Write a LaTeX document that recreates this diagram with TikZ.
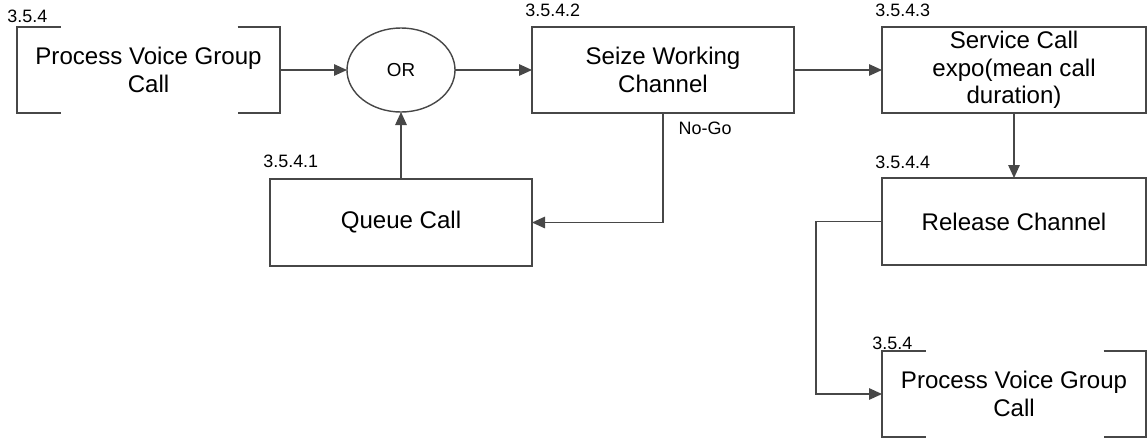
\documentclass[tikz,border=0pt]{standalone}
\usepackage{fontspec}
\setmainfont{Liberation Sans}
\usepackage{xcolor}
\usepackage{tikz}
\usetikzlibrary{shapes,arrows.meta,positioning,fit,calc}

\begin{document}
\begin{tikzpicture}[node distance=1.3cm,
    >={Triangle[length=0.26cm,width=0.23cm]},
    wire/.style={draw=black!72, line width=0.8pt},
    stepbox/.style={rectangle, draw=black!72, line width=0.8pt, outer sep=0pt, inner sep=2pt, align=center, minimum width=5.24cm, minimum height=1.72cm, font=\fontsize{13.7}{15.6}\selectfont},
    refbox/.style={rectangle, outer sep=0pt, inner sep=2pt, align=center, minimum width=5.26cm, minimum height=1.72cm, font=\fontsize{13.7}{15.6}\selectfont},
    numlabel/.style={anchor=base west, inner sep=0pt, font=\fontsize{10.2}{12}\selectfont}]
    \useasboundingbox (0,0) rectangle (22.96,-8.8);

    \node (pvg) [refbox] at (2.97,-1.40) {Process Voice Group\\Call};
    \node (or) [ellipse, draw=black!72, line width=0.8pt, outer sep=0pt, right=1.34cm of pvg, minimum width=2.16cm, minimum height=1.68cm, font=\fontsize{10.7}{12}\selectfont] {OR};
    \node (seize) [stepbox, right=1.54cm of or] {Seize Working\\Channel};
    \node (service) [stepbox, right=1.76cm of seize, minimum width=5.28cm] {Service Call\\expo(mean call\\duration)};
    \node (release) [stepbox, below=1.30cm of service, minimum width=5.28cm, minimum height=1.74cm] {Release Channel};
    \node (pvgend) [refbox, below=1.72cm of release, minimum width=5.28cm] {Process Voice Group\\Call};
    \node (queue) [stepbox, below=1.34cm of or, minimum height=1.74cm] {Queue Call};

    % brackets of the referenced process
    \foreach \n in {pvg,pvgend} {
        \draw [wire] ([xshift=0.87cm]\n.north west) -| (\n.south west) -- ++(0.87,0);
        \draw [wire] ([xshift=-0.85cm]\n.north east) -| (\n.south east) -- ++(-0.85,0);
    }

    \node (pvgnum) [numlabel] at ([xshift=-0.2cm,yshift=0.1cm]pvg.north west) {3.5.4};
    \node (seizenum) [numlabel] at ([xshift=-0.14cm,yshift=0.21cm]seize.north west) {3.5.4.2};
    \node (servicenum) [numlabel] at ([xshift=-0.14cm,yshift=0.21cm]service.north west) {3.5.4.3};
    \node (releasenum) [numlabel] at ([xshift=-0.14cm,yshift=0.2cm]release.north west) {3.5.4.4};
    \node (queuenum) [numlabel] at ([xshift=-0.14cm,yshift=0.24cm]queue.north west) {3.5.4.1};
    \node (pvgendnum) [numlabel] at ([xshift=-0.2cm,yshift=0.04cm]pvgend.north west) {3.5.4};

    \draw [wire,->] (pvg) -- (or);
    \draw [wire,->] (or) -- (seize);
    \draw [wire,->] (seize) -- (service);
    \draw [wire,->] (service) -- (release);
    \draw [wire,->] (queue) -- (or);
    \draw [wire,->] (seize.south) |- node (nogo) [pos=0, anchor=north west, inner sep=0pt, xshift=0.3cm, yshift=-0.16cm, font=\fontsize{10.2}{12}\selectfont] {No-Go} (queue.east);
    \draw [wire,->] (release.west) -- ++(-1.32,0) |- (pvgend.west);
\end{tikzpicture}
\end{document}
